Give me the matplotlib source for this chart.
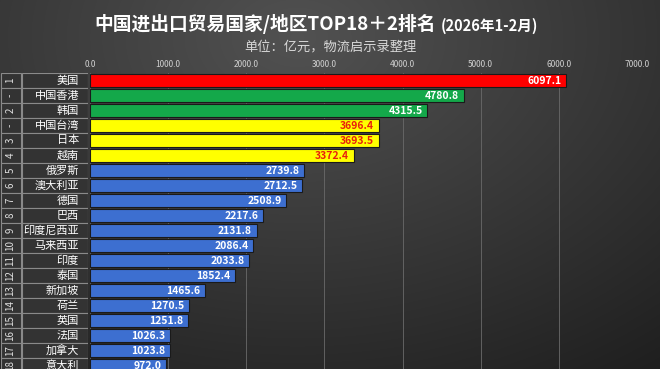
import numpy as np
import matplotlib
matplotlib.use("Agg")
import matplotlib.pyplot as plt
from matplotlib.patches import Rectangle

plt.rcParams['font.family'] = ['Noto Sans CJK SC', 'DejaVu Sans']

ranks = ["1", "-", "2", "-", "3", "4", "5", "6", "7", "8", "9", "10",
         "11", "12", "13", "14", "15", "16", "17", "18"]
names = ["美国", "中国香港", "韩国", "中国台湾", "日本", "越南", "俄罗斯", "澳大利亚",
         "德国", "巴西", "印度尼西亚", "马来西亚", "印度", "泰国", "新加坡", "荷兰",
         "英国", "法国", "加拿大", "意大利"]
values = [6097.1, 4780.8, 4315.5, 3696.4, 3693.5, 3372.4, 2739.8, 2712.5,
          2508.9, 2217.6, 2131.8, 2086.4, 2033.8, 1852.4, 1465.6, 1270.5,
          1251.8, 1026.3, 1023.8, 972.0]
groups = ["red", "green", "green", "yellow", "yellow", "yellow"] + ["blue"] * 14

bar_colors = {"red": "#ff0000", "green": "#14a84a", "yellow": "#ffff00", "blue": "#3d6fd0"}
text_colors = {"red": "white", "green": "white", "yellow": "#e8200c", "blue": "white"}

W, H = 660, 369
fig = plt.figure(figsize=(W / 100, H / 100), dpi=100)

# background gradient
bg = fig.add_axes([0, 0, 1, 1])
yy, xx = np.mgrid[0:H, 0:W]
d = np.sqrt(((xx - W * 0.45) / W) ** 2 + ((yy - H * 0.1) / H * 0.8) ** 2)
g = np.clip(0.32 - 0.22 * d, 0.12, 0.35)
bg.imshow(np.dstack([g, g, g]), aspect='auto', extent=[0, 1, 0, 1])
bg.axis('off')

n = len(names)
top_px, pitch = 73, 15.0
ax_h = n * pitch / H
ax_bottom = 1 - top_px / H - ax_h

ax = fig.add_axes([90 / W, ax_bottom, 547 / W, ax_h])
ax.patch.set_alpha(0)
y = np.arange(n)
ax.barh(y, values, height=0.86, color=[bar_colors[c] for c in groups],
        edgecolor="#1a1a1a", linewidth=0.8, zorder=3)
for i, v in enumerate(values):
    ax.text(v - 60, i + 0.04, f"{v:.1f}", ha='right', va='center', fontsize=7.5,
            fontweight='bold', color=text_colors[groups[i]], zorder=4)
ax.set_xlim(0, 7000)
ax.set_ylim(n - 0.5, -0.5)
ax.set_xticks(np.arange(0, 7001, 1000))
ax.set_xticklabels([f"{t:.1f}" for t in np.arange(0, 7001, 1000)])
ax.xaxis.tick_top()
ax.tick_params(axis='x', length=0, labelsize=6, colors='#d0d0d0', pad=3)
ax.set_yticks([])
ax.grid(axis='x', color='#6a6a6a', linewidth=0.6, zorder=0)
for s in ax.spines.values():
    s.set_visible(False)

# left label table
tab = fig.add_axes([0, ax_bottom, 88 / W, ax_h])
tab.set_xlim(0, 88)
tab.set_ylim(n - 0.5, -0.5)
tab.axis('off')
for i in range(n):
    tab.add_patch(Rectangle((0.5, i - 0.5), 20, 1, facecolor='#333333',
                            edgecolor='#8a8a8a', linewidth=0.8))
    tab.add_patch(Rectangle((21.5, i - 0.5), 66, 1, facecolor='#333333',
                            edgecolor='#8a8a8a', linewidth=0.8))
    tab.text(10.5, i, ranks[i], rotation=90, ha='center', va='center',
             fontsize=7, color='#e0e0e0')
    tab.text(79, i, names[i], ha='right', va='center', fontsize=8, color='white')

fig.text(436 / W, 1 - 24 / H, "中国进出口贸易国家/地区TOP18＋2排名", ha='right', va='center',
         fontsize=13.5, fontweight='bold', color='white')
fig.text(441 / W, 1 - 26 / H, "(2026年1-2月)", ha='left', va='center',
         fontsize=10.5, fontweight='bold', color='white')
fig.text(330 / W, 1 - 47 / H, "单位：亿元，物流启示录整理", ha='center', va='center',
         fontsize=9.5, color='#d8d8d8')

fig.savefig("out.png", dpi=100)
